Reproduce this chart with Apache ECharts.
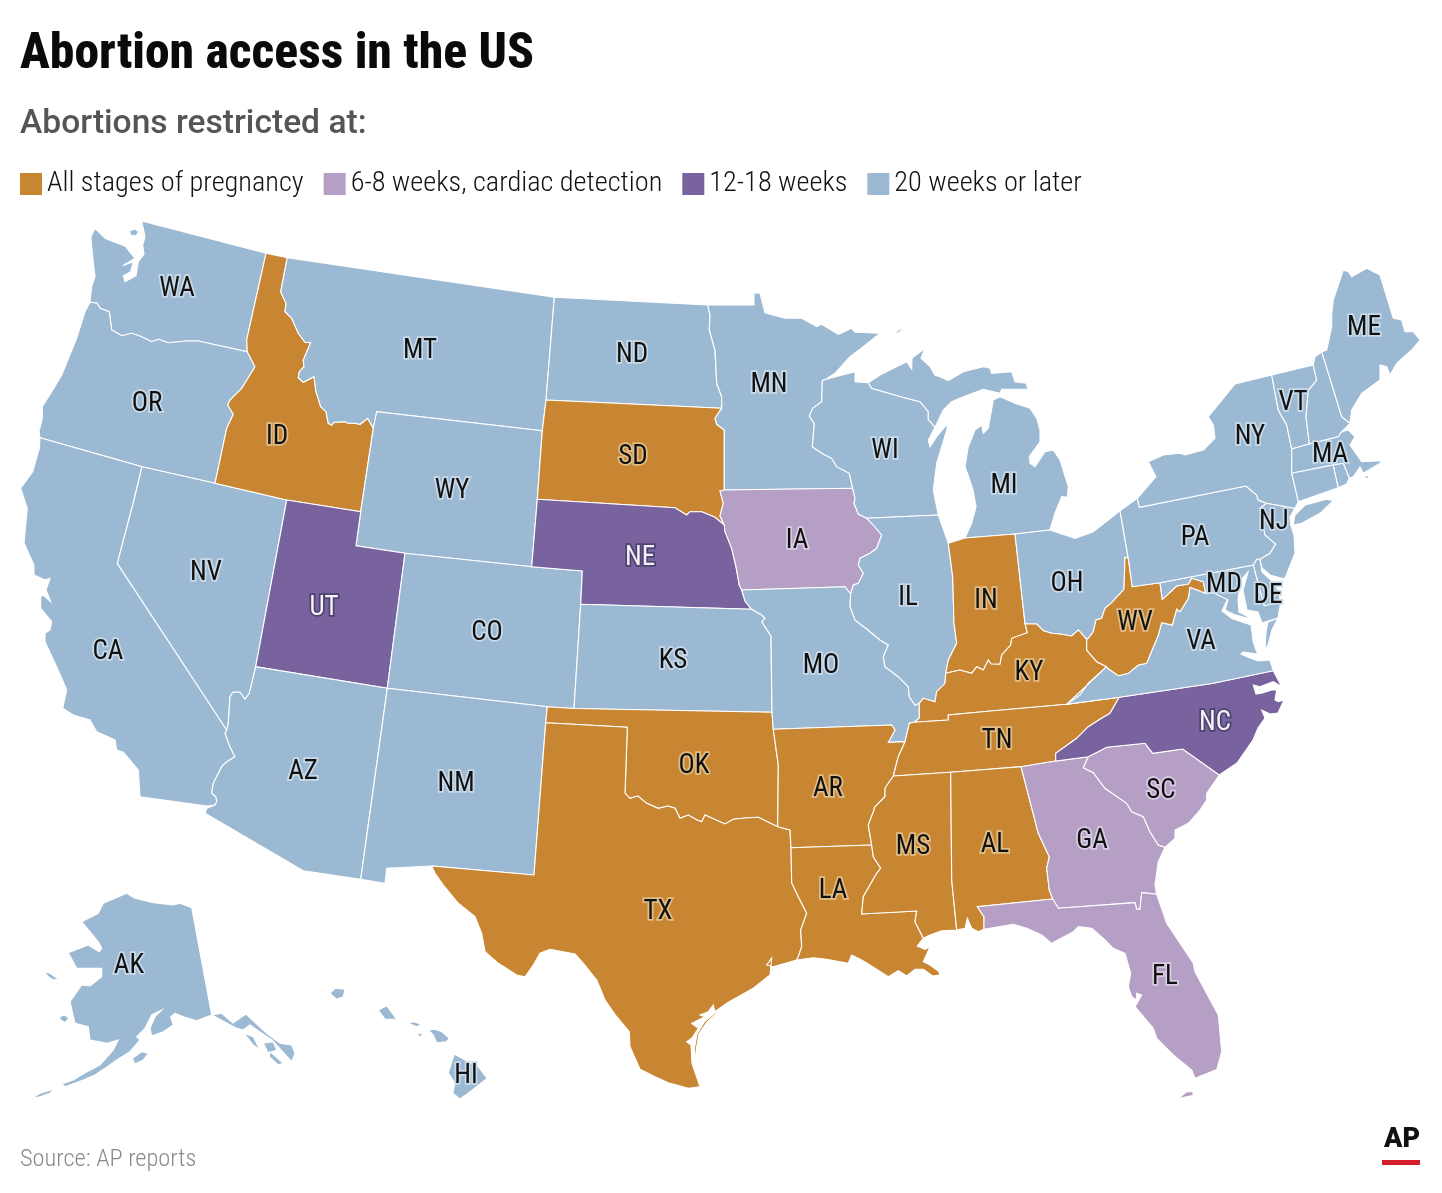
<![CDATA[<!DOCTYPE html>
<html><head><meta charset="utf-8">
<style>html,body{margin:0;padding:0;background:#fff}#c{width:1442px;height:1193px}</style>
<script src="https://cdn.jsdelivr.net/npm/echarts@6/dist/echarts.min.js"></script>
</head><body><div id="c"></div>
<script>
// ---- data ----
const categories = ['All stages of pregnancy','6-8 weeks, cardiac detection','12-18 weeks','20 weeks or later'];
const categoryColors = ['#c98632','#b59fc5','#79639e','#9cb9d3'];
const stages0 = ['ID','SD','OK','TX','AR','LA','MS','AL','TN','KY','IN','WV'];
const stages1 = ['IA','GA','SC','FL'];
const stages2 = ['UT','NE','NC'];
const stages3 = ['WA','OR','CA','NV','MT','WY','AZ','CO','NM','ND','KS','MN','MO','WI','IL','MI','OH','VA','PA','NY','ME','VT','NH','MA','RI','CT','NJ','DE','MD','AK','HI'];
const unlabelled = ['NH','RI','CT'];
const titleText = 'Abortion access in the US';
const subtitleText = 'Abortions restricted at:';
const sourceText = 'Source: AP reports';

// ---- base map geometry (registered with echarts.registerMap) ----
const waOr=[[90,302.3],[97.3,303.3],[100,308.3],[109.3,311.7],[111.7,330],[121.7,335.7],[131.7,333.3],[141.7,336.7],[151.7,341.7],[158.3,339.3],[168.3,342.7],[186.7,341],[198.3,341],[247.3,351.7]];
const orId=[[247.3,351.7],[255,366.7],[241.7,388.3],[230,400],[227.7,405],[233.3,414.3],[226.7,428.3],[215,483.3]];
const idMt=[[287.3,257.7],[280.7,291.7],[286,303.3],[285,311.7],[291.7,318.3],[298.3,333.3],[305,342.3],[310.7,342.7],[303.3,360],[304,366.7],[299.3,371.7],[298.3,377.7],[303.3,382.3],[314,376.7],[316,391.7],[320.7,406.7],[326,411.7],[328.3,423.3],[331.7,425],[334,422.3],[345,421.7],[348.3,423.3],[355,423.3],[360,424.3],[367.7,418.3],[373.3,428.3]];
const caAz=[[215,805],[216.7,801.7],[216,796.7],[211.7,793.3],[213.3,783.3],[221.7,766.7],[226.7,761.7],[235,756.7],[230,746.7],[225,733.3],[226.7,730]];
const nvAz=[[226.7,730],[228.3,723.3],[230,696.7],[232.7,692.3],[240,692.3],[245,699.3],[249.3,693.3],[255.7,666.7]];
const sdMn=[[721.7,408.3],[715,418.3],[716.7,424.3],[724.3,430],[724.3,490]];
const sdIa=[[724.3,490],[720,491],[723.3,503.3],[720,516],[724.3,525]];
const sdNe=[[724.3,525],[715,517.3],[701.7,511.7],[690,511.7],[686.7,515],[675,507.7],[537.3,499.3]];
const neIa=[[724.3,525],[725,531.7],[731.7,548.3],[736,566.7],[739.3,585],[741.7,590]];
const neMo=[[741.7,590],[745,601],[751.7,609.3]];
const iaWi=[[852.7,488.3],[855,498.3],[854,503.3],[858.3,514],[866.7,518.3]];
const iaIl=[[866.7,518.3],[873.3,525],[881.7,535],[876.7,548.3],[870,553.3],[860,558.3],[858.3,565],[863.3,573.3],[858.3,583.3],[853.3,585],[850.7,594]];
const iaMo=[[741.7,590],[845,586.7],[850.7,594]];
const mnWi=[[826,379.3],[822.3,380.7],[821.7,401.7],[812.7,408.3],[809.3,416],[814.3,424],[812.3,446.7],[821.7,453.3],[831.7,458.3],[836.7,466.7],[849.3,473.3],[852.7,488.3]];
const ndMn=[[707.7,305],[710,315],[709.3,330],[715,350],[716.7,383.3],[721.7,396.7],[721.7,408.3]];
const wiMi=[[868.3,382.7],[871.7,388.3],[900,396.5],[920,401.7],[928.3,411.7],[928.3,419.3],[935,427.3]];
const inOh=[[1015,534],[1025,623.3]];
const inKy=[[1025,623.3],[1027.3,632.7],[1011.7,638.3],[1010.7,645],[1001.7,655],[1000,664.3],[991,664],[988.3,660],[983.3,670],[976.7,666.7],[971.7,673.3],[960,670],[945.7,673.3]];
const inIl=[[948.3,543.3],[952.7,576.7],[954,623.3],[956.7,643.3],[948.3,660],[945.7,673.3]];
const kyIl=[[945.7,673.3],[945,683.3],[936.7,691.7],[935,701.7],[923.3,698.3],[919.3,703.3]];
const kyMo=[[919.3,703.3],[919.3,718.3],[914,722.3]];
const kyTn=[[914,722.3],[948.3,720],[948.3,715],[993.3,710.7],[1066.7,704.3]];
const kyVa=[[1066.7,704.3],[1080,695],[1088.3,683.3],[1106.7,666.7]];
const kyWv=[[1106.7,666.7],[1096.7,661.7],[1086.7,650],[1086.7,639.3]];
const kyOh=[[1086.7,639.3],[1078.3,630],[1071.7,636],[1060,634],[1051.7,633.3],[1043.3,630.7],[1036.7,624],[1026.7,624],[1025,623.3]];
const ohWv=[[1086.7,639.3],[1088.3,638.3],[1093.3,631.7],[1096,620],[1101.7,618.3],[1105,608.3],[1111.7,602.7],[1124,589.3],[1125,557.3]];
const paWv=[[1128.3,558.3],[1132.3,586.7],[1160,582.7]];
const mdWv=[[1160,582.7],[1162.3,599.3],[1176.7,586],[1188.3,584],[1191.7,578.3],[1203.3,581.7],[1205.7,593.3]];
const wvVa=[[1205.7,593.3],[1190,587.3],[1188.3,598.3],[1180,611.7],[1176.7,609],[1172.3,625],[1161.7,622.7],[1158.3,635],[1150,655],[1146.7,663.3],[1138.3,665],[1128.3,673.3],[1118.3,675.7],[1107.7,668.3],[1106.7,666.7]];
const vaNc=[[1273.3,670.7],[1213.3,683.3],[1119.3,697.3],[1066.7,704.3]];
const ncTn=[[1119.3,697.3],[1110,713.3],[1100,719.3],[1088.3,726.7],[1076.7,738.3],[1055.7,753.3],[1055.7,761]];
const ncSc=[[1219.3,775],[1182.7,749],[1152.7,753.3],[1145,743.3],[1106.7,747.3],[1088.3,756.7]];
const gaSc=[[1088.3,756.7],[1083.3,767.7],[1093.3,772.7],[1105,788.3],[1126.7,803.3],[1131.7,811.7],[1143.3,816.7],[1150,831.7],[1158.3,845],[1165,847.3]];
const alGa=[[1021,766.7],[1038.3,833.3],[1049.3,856.7],[1046.7,868.3],[1049.3,890],[1052.7,899]];
const gaFl=[[1052.7,899],[1058.3,908.3],[1135,902.7],[1136.7,909.3],[1140,909.3],[1141.7,892.7],[1156.7,894.3]];
const alFl=[[1052.7,899],[977.3,906.7],[984,916.7],[984,929.3]];
const msAl=[[950.7,772.3],[951.7,880],[956.7,930]];
const msLa=[[923.3,938.3],[915,921.7],[916.7,911],[861.7,914],[863.3,896.7],[876.7,873.3],[880.7,868.3],[873.3,856.7],[871.7,845]];
const arMs=[[871.7,845],[868.3,825],[873.3,811.7],[875,806.7],[885,796.7],[885,788.3],[893.3,776]];
const tnAr=[[893.3,776],[898.3,756.7],[905,741.7],[909.3,723.3]];
const moAr=[[773.3,729.3],[891.7,725],[895,730],[888.3,742.3],[905,741.7]];
const okTx=[[625,793.3],[630,798.3],[638,796],[646.7,803.3],[658.3,808.3],[668,806],[675,808.3],[680,818.3],[688.3,815],[697,820],[701.7,821.7],[705,815],[710,817.3],[716,820],[725,824],[733.3,819.3],[745,818],[758.3,817.3],[777.7,826.7]];
const laTx=[[791,847.7],[791.7,882.7],[798.3,896.7],[806.7,913.3],[800.7,930],[801.7,946.7],[798.3,956.7],[796.7,960]];
const ilMo=[[919.3,703.3],[915,705],[909.3,696.7],[908.3,686.7],[898.3,676.7],[885,666.7],[883.3,656.7],[888.3,645],[880,640],[868,630],[855,620],[850,606.7],[850.7,594]];
const nyPa=[[1137.3,498.3],[1139.3,507.3],[1246,486],[1256.7,495],[1258.3,500],[1266.7,503.3]];
const paNj=[[1266.7,503.3],[1260,508.3],[1265,535],[1275.7,544],[1270,553.3],[1260,559.3]];
const nyVt=[[1271.7,375],[1278.3,410],[1286.7,425],[1291.7,449]];
const nyMa=[[1291.7,449],[1291.7,473.3]];
const nyCt=[[1291.7,473.3],[1295.7,490],[1298.3,501.7]];
const vtNh=[[1313.3,365],[1314.3,370],[1316.7,380],[1308.3,390.7],[1306,416.7],[1309.3,444]];
const nhMe=[[1321.7,351.7],[1341.7,416.7],[1350,423.3]];

function R(){let o=[];for(const a of arguments){for(const p of a){const l=o[o.length-1];if(!l||l[0]!==p[0]||l[1]!==p[1])o.push(p);}}return o;}
const rev=a=>a.slice().reverse();

const shapes={
WA:{cp:[177,286],rings:[R([[141.7,221],[266,253.3],[246.7,340],[247.3,351.7]],rev(waOr),[[91.7,286.7],[95,276.7],[93.3,261.7],[91.7,246.7],[91,236.7],[95,228.3],[105,238.3],[113.3,241.7],[125,246],[135,258.3],[122.7,265.7],[133.3,261.7],[130.7,271.7],[123.3,275.7],[125,281.7],[136,275.7],[138.3,261.7],[144,254],[142.7,245],[145,236.7]]),[[129.3,231],[135,229],[138.7,231.7],[136,235.7],[130.7,235]]]},
OR:{cp:[147,401],rings:[R(waOr,orId,[[142,466.7],[40,437.7],[39,431.7],[42.3,418.3],[42.3,406.7],[51.7,391.7],[61.7,375],[76.7,338.3],[85,311.7],[90,302.3]])]},
CA:{cp:[108,649],rings:[R([[40,437.7],[39.3,448.3],[32.7,471.7],[20.7,488.3],[27.3,508.3],[24,543],[34,565],[34,575],[45,580],[50,578.3],[46,590],[50.7,601.7],[43.3,595],[40.7,596.7],[40.7,608.3],[51.7,621.7],[50,630],[45,633.3],[45,641.7],[55,663.3],[61.7,678.3],[66.7,690],[62.7,708.3],[73.3,715],[90,720],[96.7,731.7],[115,740],[116.7,750],[123.3,752.3],[138.3,770],[140,796.7],[206.7,806]],caAz,[[117.3,563.3],[134,500],[142,466.7]])]},
NV:{cp:[206,570],rings:[R([[142,466.7],[215,483.3],[286.7,500]],rev(nvAz),[[117.3,563.3],[134,500]])]},
ID:{cp:[277,434],rings:[R([[266,253.3]],idMt,[[360.7,511.7],[286.7,500]],rev(orId),[[246.7,340]])]},
MT:{cp:[420,348],rings:[R([[554.3,297.3],[546,400],[542.3,430.7],[376.7,411.7]],rev(idMt))]},
WY:{cp:[452,488],rings:[[[376.7,411.7],[542.3,430.7],[537.3,499.3],[531.7,566.7],[405,553.3],[356,545.7],[360.7,511.7],[373.3,428.3]]]},
UT:{cp:[324,605],rings:[[[286.7,500],[360.7,511.7],[356,545.7],[405,553.3],[387.3,688.3],[255.7,666.7]]]},
AZ:{cp:[303,769],rings:[R(rev(nvAz),rev(caAz),[[206.7,808.3],[205,813.3],[303.3,870.7],[360.7,879.3],[387.3,688.3]])]},
CO:{cp:[487,630],rings:[[[405,553.3],[531.7,566.7],[582.3,571],[580.7,604.3],[574,708.5],[547.3,706.7],[387.3,688.3]]]},
NM:{cp:[456,781],rings:[[[387.3,688.3],[547.3,706.7],[545.7,722.7],[534,875],[431.7,866],[386.7,868.3],[385,883.3],[360.7,879.3]]]},
ND:{cp:[632,352],rings:[R([[554.3,297.3]],ndMn,[[546,400]])]},
SD:{cp:[633,454],rings:[R([[546,400],[721.7,408.3]],sdMn,sdIa,sdNe,[[542.3,430.7]])]},
NE:{cp:[640,555],rings:[R(rev(sdNe),neIa,neMo,[[580.7,604.3],[582.3,571],[531.7,566.7]])]},
KS:{cp:[673,658],rings:[[[580.7,604.3],[751.7,609.3],[761.7,615],[765,618],[762,622],[771,636],[772,712.3],[574,708.5]]]},
OK:{cp:[694,763],rings:[R([[547.3,706.7],[574,708.5],[772,712.3],[773.3,729.3],[778.3,765]],rev(okTx),[[627.3,727.3],[545.7,722.7]])]},
TX:{cp:[658,909],rings:[R([[545.7,722.7],[627.3,727.3]],okTx,[[790,830]],laTx,[[773.3,966.7],[766.7,965],[771.7,958],[770,975],[753.3,988.3],[726.7,1003.3],[715,1011.7],[713.3,1005],[708.3,1011.7],[700,1015],[705,1016.7],[691.7,1023.3],[698.3,1028.3],[692,1038],[686.7,1041.7],[691,1045],[692,1063.3],[696,1075],[700,1086.7],[688.3,1088.3],[668.3,1082.7],[655,1076.7],[640,1069.3],[630,1046.7],[629.3,1031.7],[616.7,1016.7],[605,1000],[596.7,980],[583.3,963.3],[575,954],[550,949.3],[540,953.3],[533.3,965],[525,976.7],[516.7,975],[498.3,963.3],[485,951.7],[481.7,933.3],[475,916.7],[458.3,903.3],[443.3,885],[435,873.3],[431.7,866],[534,875]]),[[716,1012],[705,1021],[697,1034],[694.5,1048],[697,1068],[698,1068],[696.5,1048],[699,1034],[707,1022],[717,1013]]]},
MN:{cp:[769,382],rings:[R(ndMn,sdMn,[[852.7,488.3]],rev(mnWi),[[835,373.3],[850,356.7],[863.3,346.7],[880,333.3],[855,332.3],[851.7,328.3],[838.3,334.3],[821.7,324.3],[816.7,326.7],[801.7,318.3],[785,318.3],[765,312.7],[760,293.3],[754,292.7],[754,305]])]},
IA:{cp:[797,538],rings:[R([[724.3,490],[852.7,488.3]],iaWi,iaIl,rev(iaMo),rev(neIa),rev(sdIa))]},
MO:{cp:[821,663],rings:[R(iaMo,rev(ilMo),kyMo,[[909.3,723.3]],[[905,741.7]],rev(moAr),[[772,712.3],[771,636],[762,622],[765,618],[761.7,615],[751.7,609.3]],rev(neMo))]},
AR:{cp:[828,786],rings:[R(moAr,[[898.3,756.7]],rev(arMs),[[791,847.7],[790,830],[777.7,826.7],[778.3,765]])]},
LA:{cp:[833,888],rings:[R([[791,847.7],[871.7,845]],rev(msLa),[[917.3,946],[925,949.3],[930,946.7],[923.3,961.7],[930,965],[939.3,971.7],[939.3,975],[932.7,976],[923.3,969.3],[915,969.3],[906.7,976],[898.3,970.7],[888.3,976.7],[875,968.3],[861.7,960],[851.7,955],[848.3,963.3],[826.7,959.3],[813.3,957.7]],rev(laTx))]},
WI:{cp:[885,448],rings:[R([[826,379.3],[855,371.7],[855,381.7]],wiMi,[[928.3,440],[930,446.7],[936.7,436.7],[945,426.7],[948.3,425],[941.7,446.7],[936.7,463.3],[933.3,490],[938.3,515],[866.7,518.3]],rev(iaWi),rev(mnWi))]},
IL:{cp:[908,595],rings:[R([[866.7,518.3],[938.3,515]],inIl,kyIl,ilMo,rev(iaIl))]},
MI:{cp:[1004,483],rings:[R([[868.3,382.7],[880,375],[906.7,361.7],[911.7,369],[912,358],[925,348.3],[921,358],[930,366.7],[935,375],[943.3,378.3],[948.3,380.7],[963.3,371.7],[983.3,366.7],[990,368.3],[991.7,373.3],[1011.7,371.7],[1015,381.7],[1026,383.3],[1028.3,389.3],[1001.7,389.3],[1000,393.3],[983.3,389.3],[963.3,396.7],[951.7,401.7],[943.3,410],[935,427.3]],rev(wiMi).slice(1)),
 [[1000,396.7],[1015,403.3],[1030,408.3],[1036.7,418.3],[1040,430],[1040,441.7],[1029.3,456.7],[1030,463.3],[1035,466.7],[1045,451.7],[1053.3,450],[1060,460],[1068.3,486.7],[1067.3,497.3],[1061.7,496.7],[1055,513.3],[1050,530],[1015,534],[965,538],[971.7,523.3],[976,506.7],[973,490],[968,475],[965,466.7],[968.3,446.7],[975,430],[981.7,425],[983.3,433.3],[988.3,428.3],[993.3,400]],
 [[891.7,335],[903,326.7],[900,332]]]},
IN:{cp:[986,598],rings:[R([[948.3,543.3],[965,538]],inOh,inKy,rev(inIl))]},
OH:{cp:[1067,581],rings:[R([[1015,534],[1050,530],[1070,536.7],[1075,538.3],[1093.3,531.7],[1120,510.7],[1128.3,558.3],[1125,557.3]],rev(ohWv),kyOh,rev(inOh))]},
KY:{cp:[1029,670],rings:[R(inKy,kyIl,kyMo,kyTn,kyVa,kyWv,kyOh)]},
TN:{cp:[997,738],rings:[R(kyTn,[[1119.3,697.3]],ncTn,[[1021,766.7],[950.7,772.3],[893.3,776]],tnAr.slice(1),[[914,722.3]])]},
MS:{cp:[913,844],rings:[R([[893.3,776]],msAl,[[941.7,930.7],[930,935],[923.3,938.3]],msLa,arMs)]},
AL:{cp:[995,842],rings:[R([[950.7,772.3]],alGa,alFl,[[978.3,931.7],[971.7,928.3],[967.3,918.3],[965,928.3],[956.7,930]],rev(msAl))]},
GA:{cp:[1092,838],rings:[R([[1021,766.7],[1055.7,761]],gaSc,[[1158.3,861.7],[1155,885]],rev(gaFl),rev(alGa))]},
FL:{cp:[1165,974],rings:[R(gaFl,[[1166.7,923.3],[1193.3,963.3],[1195,971.7],[1218.3,1015],[1221.7,1051.7],[1216.7,1070],[1220,1068.3],[1195,1078.3],[1191.7,1070],[1173.3,1055],[1156.7,1038.3],[1153.3,1028.3],[1135,1006.7],[1141.7,995],[1136.7,993.3],[1136.7,1000],[1131.7,996.7],[1128.3,986.7],[1130.7,973.3],[1125,953.3],[1113.3,948.3],[1105,940],[1091.7,928.3],[1078.3,926.7],[1073.3,931.7],[1051.7,943.3],[1041.7,935],[1026.7,928.3],[1013.3,924.3]],rev(alFl)),[[1176.7,1100],[1186,1092],[1193,1091.5],[1193,1095.5],[1183,1097.5]]]},
SC:{cp:[1161,788],rings:[R(ncSc,gaSc,[[1175,838.3],[1175,830],[1188.3,823.3],[1200,810],[1206.7,800],[1206.7,793.3]])]},
NC:{cp:[1215,720],rings:[R(vaNc,ncTn,rev(ncSc),[[1237,763],[1253,740],[1258,728],[1265,718],[1261.7,710],[1270,714],[1278,713],[1284,700],[1278.3,701.7],[1275,700],[1276.7,690],[1271.7,690],[1263.3,692.7],[1256,694],[1253.3,685],[1260,686.7],[1273.3,681.7],[1281.7,686.7]])]},
VA:{cp:[1201,639],rings:[R(rev(kyVa),rev(wvVa),[[1213.3,592.7],[1228,598],[1222,611],[1232,618.5],[1251,625],[1252,632],[1253,641],[1256,650],[1258,654],[1243,652],[1241,654],[1250,658],[1258,661],[1270,660]],vaNc),[[1268,622],[1278,618],[1272,630],[1268,645],[1265,649],[1266,632]]]},
WV:{cp:[1135,620],rings:[R(ohWv,[[1128.3,558.3]],paWv,mdWv,wvVa,kyWv)]},
MD:{cp:[1224,582],rings:[[[1160,582.7],[1253.3,565],[1264.3,605.7],[1280.7,602.3],[1278,618],[1262,623],[1258,612],[1247,610],[1243,590],[1248,572],[1241,580],[1238,600],[1239,612],[1254,620],[1234,614.5],[1225,610],[1228,600],[1213.3,592.7],[1205.7,593.3],[1203.3,581.7],[1191.7,578.3],[1188.3,584],[1176.7,586],[1162.3,599.3]]]},
DE:{cp:[1268,593],rings:[[[1260,559.3],[1256.7,559.3],[1253.3,565],[1264.3,605.7],[1280.7,602.3],[1278,590],[1273,582],[1262,572]]]},
PA:{cp:[1195,535],rings:[R([[1120,510.7]],nyPa,paNj,[[1256.7,559.3],[1253.3,565],[1160,582.7],[1132.3,586.7],[1128.3,558.3]])]},
NJ:{cp:[1274,519],rings:[R(paNj,[[1262,568],[1270,575],[1281.7,578.3],[1285,578.3],[1295,553.3],[1294,535],[1290.7,525],[1290,516.7],[1295,508.3],[1266.7,503.3]])]},
NY:{cp:[1250,434],rings:[R(nyVt,nyMa,nyCt,[[1295,508.3]],rev(nyPa),[[1151.7,481.7],[1156,476.7],[1148.3,461.7],[1163.3,455],[1180,453.3],[1185,455],[1203.3,450],[1215,438.3],[1213.3,425],[1208.3,416.7],[1235,384]]),[[1293.3,525],[1295,515],[1305,505],[1326.7,499.3],[1333.3,500.7],[1320,513.3],[1301.7,523.3]]]},
VT:{cp:[1293,400],rings:[R(vtNh,[[1291.7,449]],rev(nyVt))]},
NH:{rings:[R([[1321.7,351.7],[1315,356.7]],vtNh,[[1338.3,436.7],[1341.7,431.7]],rev(nhMe))]},
ME:{cp:[1364,325],rings:[[[1321.7,351.7],[1326.7,350],[1331.7,326.7],[1331.7,315],[1333.3,300],[1343.3,270],[1348.3,271.7],[1351.7,276.7],[1366.7,268.3],[1380,275],[1393.3,318.3],[1401.7,320],[1405,331.7],[1413.3,331.7],[1420,340],[1411.7,350],[1396.7,363.3],[1390,375],[1386.7,366.7],[1380,365],[1380,380],[1361.7,393.3],[1351.7,410],[1350,423.3],[1341.7,416.7]]]},
MA:{cp:[1330,452],rings:[[[1291.7,449],[1309.3,444],[1338.3,436.7],[1341.7,431.7],[1348.3,430],[1355,436.7],[1350,445],[1361.7,461.7],[1380,460.7],[1381.7,462.3],[1363.3,473.3],[1360,467],[1353.3,476.7],[1349.3,478.3],[1343.3,463.3],[1333.3,465],[1291.7,473.3]],[[1363.3,478.3],[1370,478],[1367,475]]]},
CT:{rings:[[[1291.7,473.3],[1333.3,465],[1338.3,487.7],[1298.3,501.7],[1295.7,490]]]},
RI:{rings:[[[1333.3,465],[1343.3,463.3],[1349.3,478.3],[1346.7,484],[1338.3,487.7]]]},
AK:{cp:[129,963],rings:[
 [[191.7,907.7],[211.7,1015],[196.7,1020.7],[183.3,1016.7],[175,1013.3],[170.7,1016.7],[173.3,1025],[163.3,1031.7],[151.7,1036],[150,1028.3],[155,1016.7],[161.7,1010],[151.7,1015],[145,1028.3],[136.7,1036.7],[140,1040],[130,1051.7],[116.7,1060],[107.3,1066.7],[95,1075],[83.3,1080],[65,1086.7],[61.7,1084],[73.3,1080],[85,1072.7],[100,1065],[113.3,1050],[118.3,1040],[107.3,1043.3],[90,1040],[88.3,1026.7],[75,1023.3],[70,1001.7],[81.7,985],[90,986],[101.7,976.7],[101.7,968.3],[76.7,968.3],[68.3,952.7],[88.3,945],[99.3,951.7],[101.7,948.3],[98.3,941.7],[81.7,921.7],[98.3,913.3],[103.3,903.3],[126.7,893.3],[135,898.3],[153.3,902.7],[173.3,905],[180,903.3]],
 [[211.7,1015],[221.7,1013.3],[233,1023],[240,1018],[246,1014],[266.7,1033.3],[280,1043.3],[291.7,1045],[295,1053.3],[291.7,1061.7],[283,1052],[272,1040],[260,1032],[250,1025],[243,1030],[236,1028],[223,1021]],
 [[244,1033.3],[253.3,1036.7],[260,1050],[253.3,1045]],
 [[263.3,1043.3],[273.3,1041.7],[276.7,1050],[268.3,1053.3]],
 [[270,1051.7],[283.3,1063.3],[278.3,1065],[269.3,1056.7]],
 [[44,971.7],[50,973.3],[58.3,979],[53.3,980],[48.3,976.7]],
 [[59.3,1016.7],[65,1015],[69,1018.3],[65,1022.7],[60.7,1020]],
 [[132.3,1058.3],[141.7,1051.7],[148.3,1053.3],[143.3,1060],[135,1064]],
 [[31.7,1098.3],[40,1093.3],[53.3,1089.3],[50,1093.3],[40,1096.7]]]},
HI:{cp:[466,1073],rings:[
 [[330,993.3],[335,988.3],[345,989.3],[343.3,996.7],[336.7,999.3]],
 [[378.3,1010],[386.7,1005.7],[396.7,1019.3],[385,1019.3]],
 [[408.3,1023.3],[413.3,1021.7],[421.7,1024.3],[416.7,1026.7]],
 [[416.7,1032.7],[423.3,1034],[420,1037.3]],
 [[428.3,1030],[435,1029.3],[441.7,1031.7],[449.3,1038.3],[446.7,1041.7],[436.7,1042.7],[433.3,1035]],
 [[454.3,1054],[468.3,1061.7],[478.3,1066.7],[487.3,1078.3],[468.3,1093.3],[460,1099],[452.7,1093.3],[455,1083.3],[448.3,1072.7]]]}
};

const flip=r=>r.map(p=>[p[0],-p[1]]);
const codes=Object.keys(shapes);
echarts.registerMap('usStates',{type:'FeatureCollection',features:codes.map(c=>{
  const s=shapes[c];
  return {type:'Feature',properties:{name:c,cp:s.cp?[s.cp[0],-s.cp[1]]:undefined},
    geometry:{type:'MultiPolygon',coordinates:s.rings.map(r=>[flip(r)])}};
})});

const groups=[stages0,stages1,stages2,stages3];
const labelStyles=[
 {color:'#111',textBorderColor:'#e0bd85'},
 {color:'#111',textBorderColor:'#d8cde2'},
 {color:'#f4f2f8',textBorderColor:'#4f4270'},
 {color:'#111',textBorderColor:'#c8d9e8'}];
const seriesData=[];
groups.forEach((g,i)=>g.forEach(c=>seriesData.push({name:c,value:i,
  label:Object.assign({show:unlabelled.indexOf(c)<0},labelStyles[i])})));

const FONT='Roboto,"Noto Sans",sans-serif';
const chart=echarts.init(document.getElementById('c'),null,{renderer:'canvas'});
chart.setOption({
 animation:false,
 backgroundColor:'#ffffff',
 title:[
  {text:titleText,left:20,top:31,padding:0,textStyle:{fontFamily:FONT,fontStyle:'condensed',fontWeight:800,fontSize:49.6,color:'#0a0a0a'}},
  {text:subtitleText,left:20,top:108,padding:0,textStyle:{fontFamily:FONT,fontWeight:500,fontSize:33.6,color:'#555'}},
  {text:sourceText,left:20,top:1148,padding:0,textStyle:{fontFamily:FONT,fontStyle:'condensed',fontWeight:300,fontSize:24.4,color:'#8a8a8a'}}
 ],
 visualMap:{type:'piecewise',orient:'horizontal',left:20,top:170,padding:0,itemWidth:22,itemHeight:22,itemGap:20,itemSymbol:'rect',
  selectedMode:false,hoverLink:false,seriesIndex:0,align:'left',textGap:5,
  pieces:categories.map((c,i)=>({value:i,label:c,color:categoryColors[i]})),
  textStyle:{fontFamily:FONT,fontStyle:'condensed',fontWeight:300,fontSize:28.3,color:'#111'}},
 series:[{type:'map',map:'usStates',silent:true,roam:false,aspectScale:1,
  boundingCoords:[[0,0],[1442,-1193]],left:0,top:0,width:1442,height:1193,
  itemStyle:{borderColor:'#ffffff',borderWidth:1.1,areaColor:'#9cb9d3'},
  label:{show:true,formatter:'{b}',fontFamily:FONT,fontStyle:'condensed',fontSize:27,textBorderWidth:3.5,offset:[0,3]},
  data:seriesData}],
 graphic:[
  {type:'text',left:1384,top:1127,style:{text:'AP',fontFamily:FONT,fontWeight:900,fontSize:27,fill:'#111'}},
  {type:'rect',left:1382,top:1160,shape:{width:38,height:5},style:{fill:'#d3202c'}}
 ]
});
</script></body></html>]]>
